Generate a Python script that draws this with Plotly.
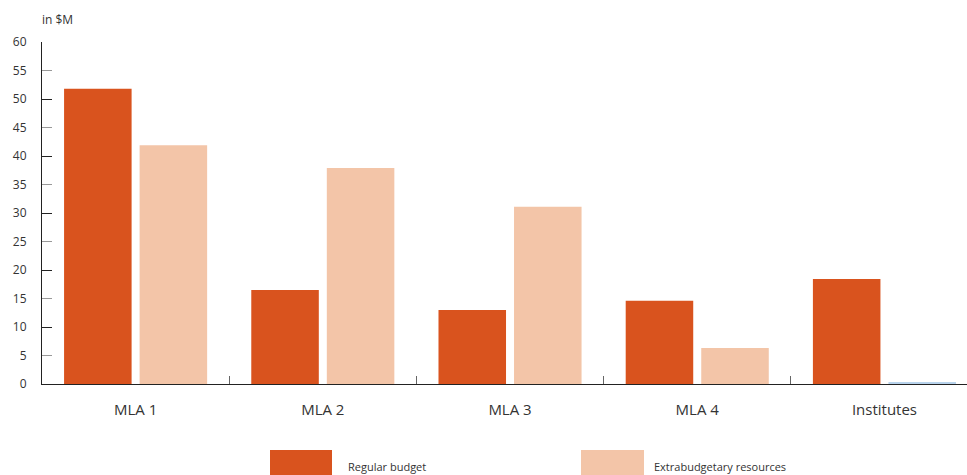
import plotly.graph_objects as go

categories = ["MLA 1", "MLA 2", "MLA 3", "MLA 4", "Institutes"]
regular_budget = [51.8, 16.5, 13.0, 14.6, 18.4]
extrabudgetary = [41.9, 37.9, 31.1, 6.3, 0.2]
series_names = ["Regular budget", "Extrabudgetary resources"]
y_ticks = list(range(0, 61, 5))

c_reg = "#D9531E"
c_ext = "#F3C5A8"
c_tiny = "#B8D3EC"
font = "Open Sans, Noto Sans, sans-serif"

L, R, T, B = 42, 0, 42, 91
W, H = 967, 475

fig = go.Figure()
fig.add_trace(go.Bar(x=categories, y=regular_budget, name=series_names[0],
                     marker=dict(color=c_reg, line=dict(width=0)), showlegend=False))
fig.add_trace(go.Bar(x=categories, y=extrabudgetary, name=series_names[1],
                     marker=dict(color=[c_ext] * 4 + [c_tiny], line=dict(width=0)),
                     showlegend=False))

fig.update_layout(
    width=W, height=H,
    margin=dict(l=L, r=R, t=T, b=B),
    paper_bgcolor="white", plot_bgcolor="white",
    barmode="group", bargap=0.193, bargroupgap=0.106,
    font=dict(family=font, color="#333333"),
    xaxis=dict(
        range=[-0.5, 4.441], layer="below traces",
        showline=True, linecolor="#222222", linewidth=1,
        ticks="inside", tickson="boundaries", ticklen=8, tickcolor="#666666",
        tickfont=dict(size=15, color="#333333"), showgrid=False,
        ticklabelstandoff=12,
    ),
    yaxis=dict(
        range=[0, 60], tickvals=y_ticks, showline=True, linecolor="#222222",
        linewidth=1, ticks="inside", ticklen=10, tickcolor="#999999",
        tickfont=dict(size=12, color="#333333"), showgrid=False, zeroline=False,
        ticklabelstandoff=12,
    ),
    yaxis2=dict(
        range=[0, 60], overlaying="y", side="left", tickvals=y_ticks[::2],
        ticks="inside", ticklen=10, tickcolor="#222222", showticklabels=False,
        showgrid=False, zeroline=False, showline=False,
    ),
)
# invisible trace to activate yaxis2 (for the darker major ticks)
fig.add_trace(go.Scatter(x=categories, y=regular_budget, yaxis="y2",
                         mode="markers", marker=dict(opacity=0), hoverinfo="skip",
                         showlegend=False))

pw = W - L - R
ph = H - T - B
def px_x(p):
    return (p - L) / pw
def px_y(p):
    return (H - B - p) / ph

fig.add_annotation(text="in $M", xref="paper", yref="paper", x=px_x(40), y=px_y(20),
                   xanchor="left", yanchor="middle", showarrow=False,
                   font=dict(size=12, color="#333333"))

# legend (custom, large swatches)
for name, col, x0, x1, tx in [(series_names[0], c_reg, 270, 332, 346),
                              (series_names[1], c_ext, 581, 644, 652)]:
    fig.add_shape(type="rect", xref="paper", yref="paper",
                  x0=px_x(x0), x1=px_x(x1), y0=px_y(480), y1=px_y(450),
                  fillcolor=col, line=dict(width=0))
    fig.add_annotation(text=name, xref="paper", yref="paper", x=px_x(tx), y=px_y(466),
                       xanchor="left", yanchor="middle", showarrow=False,
                       font=dict(size=11, color="#333333"))

fig.write_html("out.html")
